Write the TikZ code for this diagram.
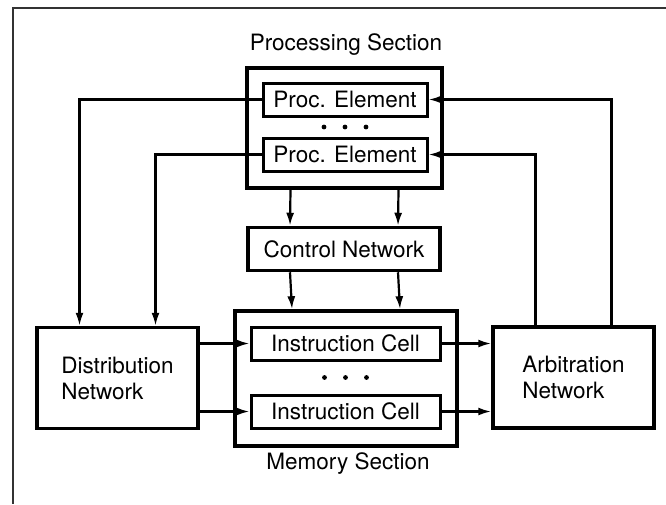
\documentclass[tikz,border=0pt]{standalone}
\usepackage{fontspec}
\setmainfont{TeX Gyre Heros}
\usetikzlibrary{arrows.meta, positioning, calc}

\begin{document}
\begin{tikzpicture}[x=1pt, y=-1pt,
    every node/.style={font=\fontsize{22.5}{26}\selectfont},
    unit/.style={draw, line width=3pt, minimum height=33pt, inner sep=0pt},
    section/.style={draw, line width=3.5pt, inner sep=0pt},
    netbox/.style={draw, line width=3.5pt, align=left, inner sep=0pt,
      minimum width=161pt, minimum height=101pt},
    link/.style={line width=2.2pt, -{Latex[length=13pt,width=8pt]}}]
  \useasboundingbox (0,0) rectangle (666,504);
  % Frame
  \draw[line width=1.8pt, black!80] (666,8) -| (13,504);
  % Processing section
  \node[section, minimum width=195pt, minimum height=120pt] (proc) at (344.5,128) {};
  \node[unit, minimum width=164pt] (pe1) at (345,99.5) {Proc. Element};
  \node[unit, minimum width=164pt] (pe2) at (345,154.5) {Proc. Element};
  \node (proclbl) at (346,45) {Processing Section};
  \foreach \dx in {-21,0,21}
    \fill ($(pe1)!0.5!(pe2)+(\dx,0)$) circle (2.4pt);
  % Control network
  \node[unit, line width=3.5pt, minimum width=192pt, minimum height=43pt] (ctrl) at (344,249) {Control Network};
  % Memory section
  \node[section, minimum width=222pt, minimum height=135pt] (mem) at (346,378.5) {};
  \node[unit, minimum width=189pt] (ic1) at (345.5,343.5) {Instruction Cell};
  \node[unit, minimum width=189pt] (ic2) at (345.5,411.5) {Instruction Cell};
  \node (memlbl) at (348,464) {Memory Section};
  \foreach \dx in {-21,0,21}
    \fill ($(ic1)!0.5!(ic2)+(\dx,0)$) circle (2.4pt);
  % Networks
  \node[netbox] (dist) at (117.5,378) {Distribution\\Network};
  \node[netbox] (arb) at (573.5,377.5) {Arbitration\\Network};
  % Connectors
  \draw[link] (pe1.west) -| ([xshift=-38pt]dist.north);
  \draw[link] (pe2.west) -| ([xshift=38pt]dist.north);
  \draw[link] ([xshift=38pt]arb.north) |- (pe1.east);
  \draw[link] ([xshift=-38pt]arb.north) |- (pe2.east);
  \foreach \dx in {-54pt,54pt} {
    \draw[link] ([xshift=\dx]proc.south) -- ([xshift=\dx]ctrl.north);
    \draw[link] ([xshift=\dx]ctrl.south) -- ([xshift=\dx]mem.north);
  }
  \draw[link] (dist.east |- ic1.west) -- (ic1.west);
  \draw[link] (dist.east |- ic2.west) -- (ic2.west);
  \draw[link] (ic1.east) -- (arb.west |- ic1.east);
  \draw[link] (ic2.east) -- (arb.west |- ic2.east);
\end{tikzpicture}
\end{document}
